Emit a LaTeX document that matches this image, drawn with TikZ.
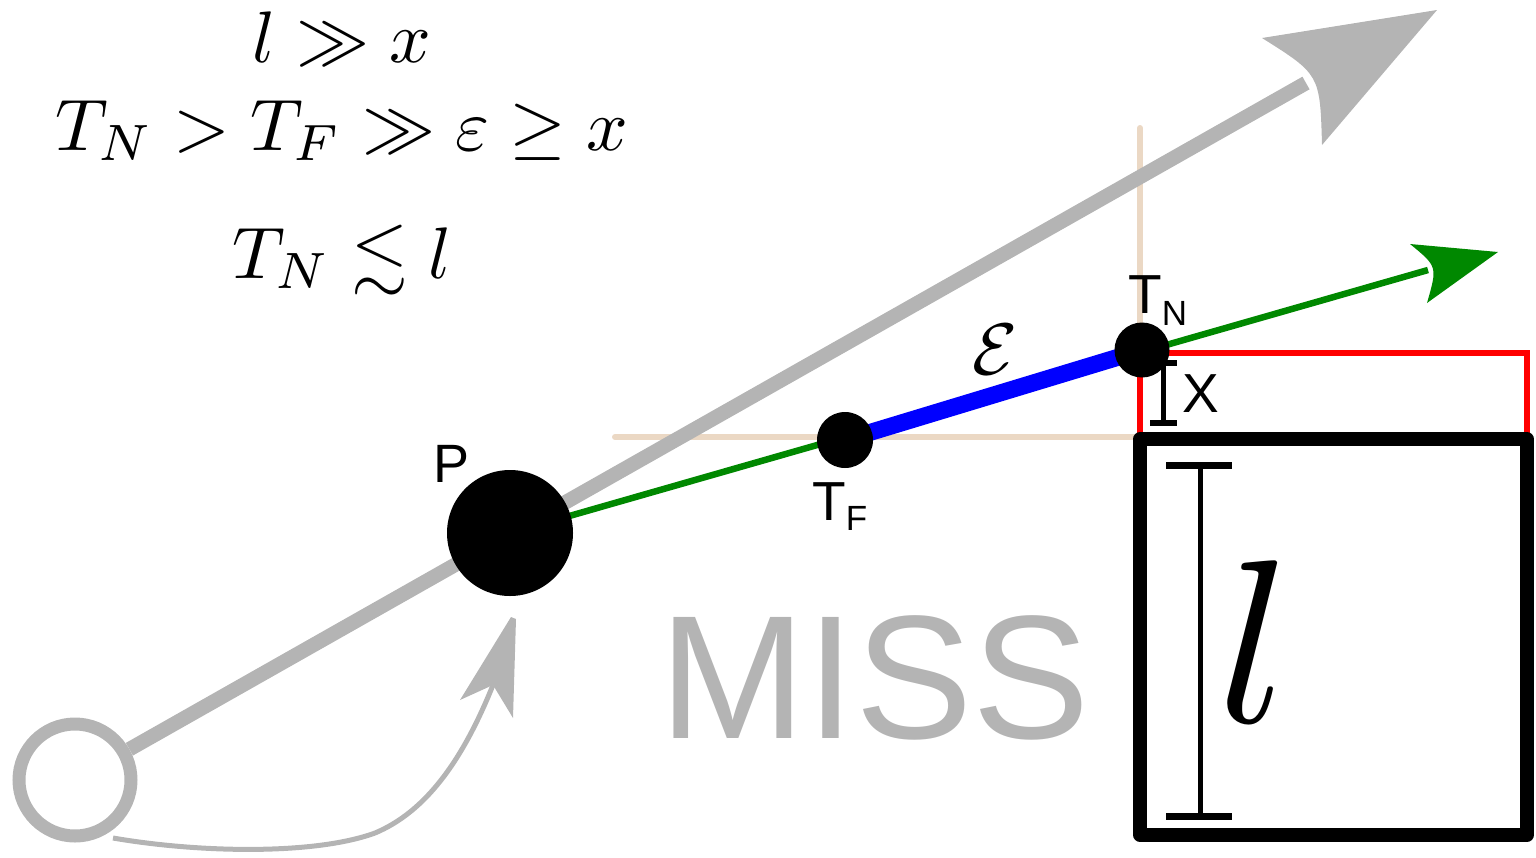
\documentclass[tikz,border=0pt]{standalone}
\usepackage{graphicx}
\usepackage{amssymb}
\usepackage{fontspec}
\newfontfamily\arialf{Liberation Sans}
\usetikzlibrary{backgrounds}
\definecolor{lgray}{RGB}{180,180,180}
\definecolor{dgreen}{RGB}{0,136,0}
\definecolor{beige}{RGB}{235,216,196}
\tikzset{
  dot/.style={circle, fill=black, inner sep=0pt},
  ring/.style={circle, draw=lgray, line width=13pt, minimum size=112pt, inner sep=0pt},
  mathtxt/.style={inner sep=0pt},
  sanslbl/.style={inner sep=0pt, font=\arialf\fontsize{55}{60}\selectfont},
  beigeline/.style={draw=beige, line width=6pt, line cap=round},
  grayline/.style={draw=lgray, line width=14.5pt},
  greenline/.style={draw=dgreen, line width=6.5pt},
  blueline/.style={draw=blue, line width=17pt},
  redline/.style={draw=red, line width=5.5pt},
  tickline/.style={draw=black, line width=5pt},
  tickcap/.style={draw=black, line width=6pt},
  bigbox/.style={draw=black, line width=13.5pt, line join=round, inner sep=0pt},
}
\newcommand{\myscaled}[1]{\scalebox{7.3}{#1}}
\begin{document}
\begin{tikzpicture}[x=1pt,y=-1pt]
\useasboundingbox (0,0) rectangle (1536,857);

% formulas
\node[mathtxt, anchor=base] (f1) at (342,62) {\myscaled{$l\gg x$}};
\node[mathtxt, anchor=base] (f2) at (342,150) {\myscaled{$T_N > T_F \gg \varepsilon \geq x$}};
\node[mathtxt, anchor=base] (f3) at (342,278) {\myscaled{$T_N \lesssim l$}};

% main nodes
\node[ring] (S) at (75,780) {};
\node[dot, minimum size=126pt] (P) at (510,533) {};
\node[dot, minimum size=56pt] (TF) at (845,440) {};
\node[dot, minimum size=55pt] (TN) at (1142,350) {};
\node[bigbox, minimum width=387pt, minimum height=396pt] (box) at (1333.5,637) {};

% coordinates
\coordinate (gin) at (1306,83);
\coordinate (gtip) at (1437,10);
\coordinate (gA) at (1262,38);
\coordinate (gB) at (1322,145);
\coordinate (grin) at (1428,270);
\coordinate (grtip) at (1498,252);
\coordinate (grA) at (1410,244);
\coordinate (grB) at (1427,303);
\coordinate (bh1) at (615,437);
\coordinate (bc) at (1140,437);
\coordinate (bv1) at (1140,128);
\coordinate (r0) at (1140,353);
\coordinate (r1) at (1527,353);
\coordinate (r2) at (1527,437);
\coordinate (x1) at (1163,363);
\coordinate (x2) at (1163,423);
\coordinate (l1) at (1200,465);
\coordinate (l2) at (1200,816);
\coordinate (c0) at (113,838);
\coordinate (c1) at (375,833);
\coordinate (c2) at (493,685);
\coordinate (ctipL) at (511,617);
\coordinate (ctipR) at (516,619);
\coordinate (cL) at (460,700);
\coordinate (cR) at (513,718);

\begin{pgfonlayer}{background}
  \draw[beigeline] (bh1) -- (bc) -- (bv1);
  \draw[grayline] (S) -- (gin);
  \draw[greenline] (P.center) -- (grin);
  \draw[blueline] (TF.center) -- (TN.center);
  \draw[redline] (bc) -- (r0) -- (r1) -- (r2);
  \draw[tickline] (x1) -- (x2);
  \draw[tickcap] ([xshift=-13pt]x1) -- ([xshift=14pt]x1);
  \draw[tickcap] ([xshift=-13pt]x2) -- ([xshift=14pt]x2);
\end{pgfonlayer}

% arrowheads
\fill[lgray] (gtip) -- (gA) .. controls (1320,74.5) .. (gB) -- cycle;
\fill[dgreen] (grtip) -- (grA) .. controls (1437.5,266.5) .. (grB) -- cycle;

% curved arrow
\draw[lgray, line width=5pt] (c0) .. controls (200,853) and (315,855) .. (c1)
   .. controls (425,812) and (462,762) .. (c2);
\fill[lgray] (ctipL) -- (cL) -- (c2) -- (cR) -- (ctipR) -- cycle;

% l interval
\draw[tickline] (l1) -- (l2);
\draw[line width=7pt] ([xshift=-34pt]l1) -- ([xshift=32pt]l1);
\draw[line width=7pt] ([xshift=-34pt]l2) -- ([xshift=32pt]l2);
\node[inner sep=0pt, anchor=base] (lbig) at (1255,722) {\scalebox{23.3}{$l$}};

% labels
\node[sanslbl, anchor=base, font=\arialf\fontsize{54}{60}\selectfont] (Pl) at (452,482) {P};
\node[sanslbl, anchor=base west] (TNl) at (1128,313) {T\raisebox{-12pt}{\fontsize{35}{40}\selectfont N}};
\node[sanslbl, anchor=base west] (TFl) at (812,520) {T\raisebox{-10pt}{\fontsize{35}{40}\selectfont F}};
\node[sanslbl, anchor=base] (Xl) at (1201,412) {X};
\node[inner sep=0pt, anchor=base, text=lgray, font=\arialf\fontsize{176}{180}\selectfont] (miss) at (875,738) {MISS};
\node[inner sep=0pt] (eps) at (995,350) {\myscaled{$\mathcal{E}$}};
\end{tikzpicture}
\end{document}
